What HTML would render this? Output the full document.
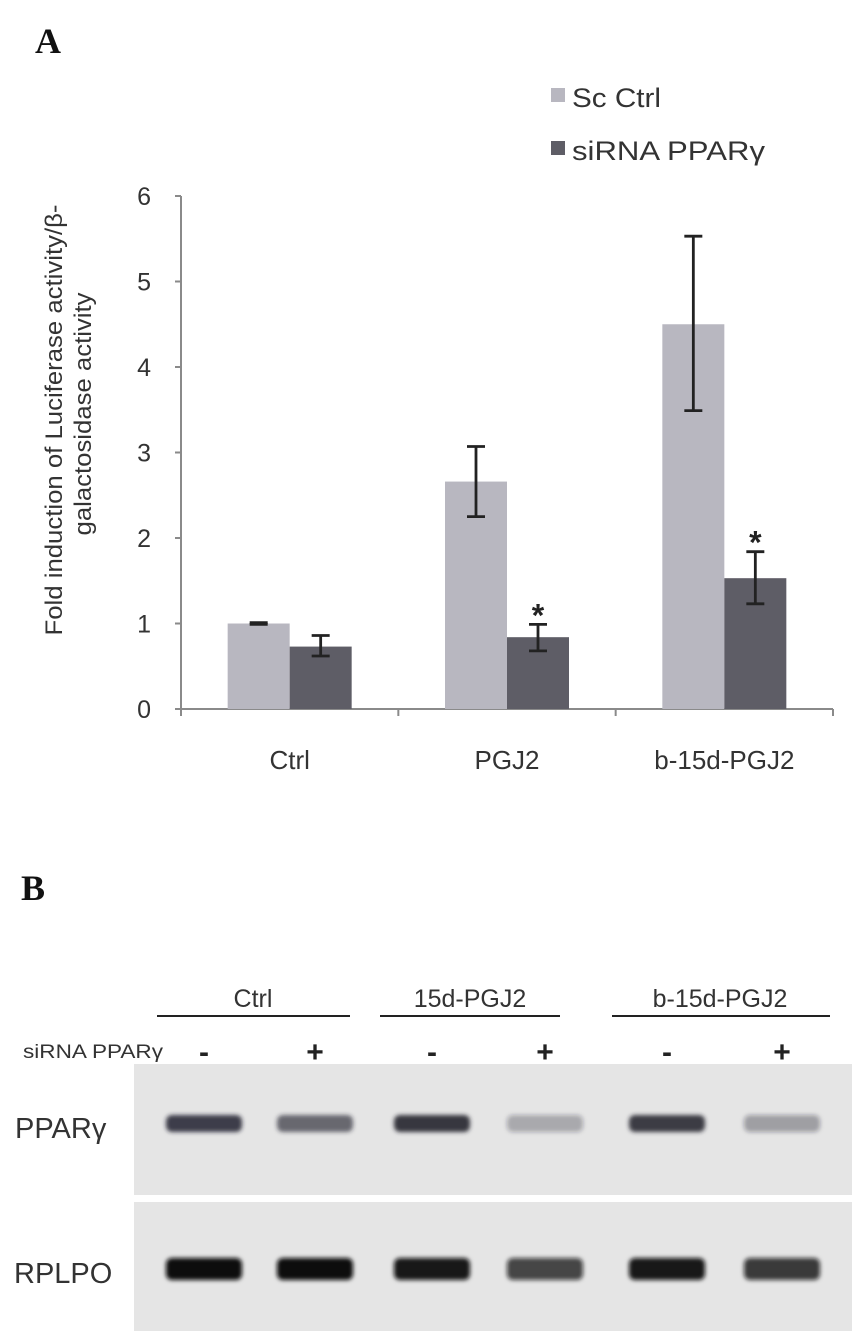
<!DOCTYPE html>
<html><head><meta charset="utf-8"><style>
html,body{margin:0;padding:0;background:#fff;}
svg{display:block;font-family:"Liberation Sans",sans-serif;}
</style></head><body>
<svg width="863" height="1343" viewBox="0 0 863 1343">
<defs><filter id="blur" x="-20%" y="-50%" width="140%" height="200%"><feGaussianBlur stdDeviation="2.2"/></filter></defs>
<text x="35" y="53" font-family="Liberation Serif" font-weight="bold" font-size="36" fill="#111">A</text>
<g>
<rect x="551" y="88" width="14" height="14" fill="#b8b7c0"/>
<text x="572" y="107" font-size="27" textLength="89" lengthAdjust="spacingAndGlyphs" fill="#333">Sc Ctrl</text>
<rect x="551" y="141" width="14" height="14" fill="#5e5d66"/>
<text x="572" y="160" font-size="27" textLength="193" lengthAdjust="spacingAndGlyphs" fill="#333">siRNA  PPARγ</text>
</g>
<g>
<text transform="translate(62,420) rotate(-90)" text-anchor="middle" font-size="24" textLength="431" lengthAdjust="spacingAndGlyphs" fill="#333">Fold induction of Luciferase activity/β-</text>
<text transform="translate(91,414) rotate(-90)" text-anchor="middle" font-size="24" textLength="243" lengthAdjust="spacingAndGlyphs" fill="#333">galactosidase activity</text>
</g>
<g id="chart"></g>
<text x="21" y="900" font-family="Liberation Serif" font-weight="bold" font-size="36" fill="#111">B</text>
<g font-size="25" fill="#333">
<text x="253" y="1007" text-anchor="middle">Ctrl</text>
<line x1="157" y1="1016" x2="350" y2="1016" stroke="#222" stroke-width="2"/>
<text x="470" y="1007" text-anchor="middle">15d-PGJ2</text>
<line x1="380" y1="1016" x2="560" y2="1016" stroke="#222" stroke-width="2"/>
<text x="720" y="1007" text-anchor="middle">b-15d-PGJ2</text>
<line x1="612" y1="1016" x2="830" y2="1016" stroke="#222" stroke-width="2"/>
<text x="23" y="1058" font-size="19" textLength="140" lengthAdjust="spacingAndGlyphs">siRNA PPARγ</text>
</g>
<g id="signs" font-size="30" fill="#222"></g>
<rect x="134" y="1064" width="718" height="131" fill="#e5e5e5"/>
<rect x="134" y="1202" width="718" height="129" fill="#e5e5e5"/>
<text x="15" y="1138" font-size="29" fill="#333">PPARγ</text>
<text x="14" y="1283" font-size="29" fill="#333">RPLPO</text>
<g id="bands" filter="url(#blur)"></g>
</svg>
<script>
const categories = ["Ctrl","PGJ2","b-15d-PGJ2"];
const scValues = [1.0, 2.66, 4.5];
const scErrLow = [0.99, 2.25, 3.49];
const scErrHigh = [1.01, 3.07, 5.53];
const siValues = [0.73, 0.84, 1.53];
const siErrLow = [0.62, 0.68, 1.23];
const siErrHigh = [0.86, 0.99, 1.84];
const significant = [false, true, true];
const yTicks = [0,1,2,3,4,5,6];
const ppargIntensity = [0.85, 0.65, 0.9, 0.3, 0.88, 0.35];
const rplpoIntensity = [1.0, 1.0, 0.95, 0.75, 0.95, 0.8];
const laneSigns = ["-","+","-","+","-","+"];

const NS="http://www.w3.org/2000/svg";
const X0=181, X1=833, Y0=709, Y6=196;
const yS=v=>Y0-(Y0-Y6)*v/6;
const band=(X1-X0)/categories.length;
const xC=i=>X0+band*(i+0.5);
const BW=62;
function mk(tag,attrs,parent){const e=document.createElementNS(NS,tag);for(const k in attrs)e.setAttribute(k,attrs[k]);parent.appendChild(e);return e;}
const g=document.getElementById('chart');
const axisColor="#8a8a8a";
const ya=mk('line',{x1:X0,y1:Y6,x2:X0,y2:Y0,stroke:axisColor,'stroke-width':2},g);


const xa=mk('line',{x1:X0-6,y1:Y0,x2:X1,y2:Y0,stroke:axisColor,'stroke-width':2},g);


yTicks.forEach(t=>{
  mk('line',{x1:X0-6,y1:yS(t),x2:X0,y2:yS(t),stroke:axisColor,'stroke-width':2},g);
  const tx=mk('text',{x:151,y:yS(t)+9,'text-anchor':'end','font-size':25,fill:'#333'},g);
  tx.textContent=t;
  
  
});
for(let i=0;i<=categories.length;i++){
  const x=X0+band*i;
  mk('line',{x1:x,y1:Y0,x2:x,y2:Y0+7,stroke:axisColor,'stroke-width':2},g);
}
function errBar(x,lo,hi){
  mk('line',{x1:x,y1:yS(hi),x2:x,y2:yS(lo),stroke:'#222','stroke-width':2.8},g);
  mk('line',{x1:x-9,y1:yS(hi),x2:x+9,y2:yS(hi),stroke:'#222','stroke-width':2.8},g);
  mk('line',{x1:x-9,y1:yS(lo),x2:x+9,y2:yS(lo),stroke:'#222','stroke-width':2.8},g);
}
categories.forEach((c,i)=>{
  const cx=xC(i);
  const b1=mk('rect',{x:cx-BW,y:yS(scValues[i]),width:BW,height:Y0-yS(scValues[i]),fill:'#b8b7c0'},g);
  
  
  const b2=mk('rect',{x:cx,y:yS(siValues[i]),width:BW,height:Y0-yS(siValues[i]),fill:'#5e5d66'},g);
  
  
  errBar(cx-BW/2,scErrLow[i],scErrHigh[i]);
  errBar(cx+BW/2,siErrLow[i],siErrHigh[i]);
  if(significant[i]){
    const s=mk('text',{x:cx+BW/2,y:yS(siErrHigh[i])+2,'text-anchor':'middle','font-size':32,'font-weight':'bold',fill:'#222'},g);
    s.textContent='*';
    
    
  }
  const l=mk('text',{x:cx,y:769,'text-anchor':'middle','font-size':26,fill:'#333'},g);
  l.textContent=c;
  
  
});
const laneX=[204,315,432,545,667,782];
const sg=document.getElementById('signs');
const bg=document.getElementById('bands');
laneSigns.forEach((s,i)=>{
  const t=mk('text',{x:laneX[i],y:1062,'text-anchor':'middle','font-weight':'bold'},sg);
  t.textContent=s;
  
  
  const a=ppargIntensity[i], b=rplpoIntensity[i];
  const r1=mk('rect',{x:laneX[i]-38,y:1115,width:76,height:17,rx:6,fill:'#22222e','fill-opacity':a},bg);
  
  
  const r2=mk('rect',{x:laneX[i]-38,y:1258,width:76,height:22,rx:6,fill:'#0c0c10','fill-opacity':b},bg);
  
  
});
</script>
</body></html>
